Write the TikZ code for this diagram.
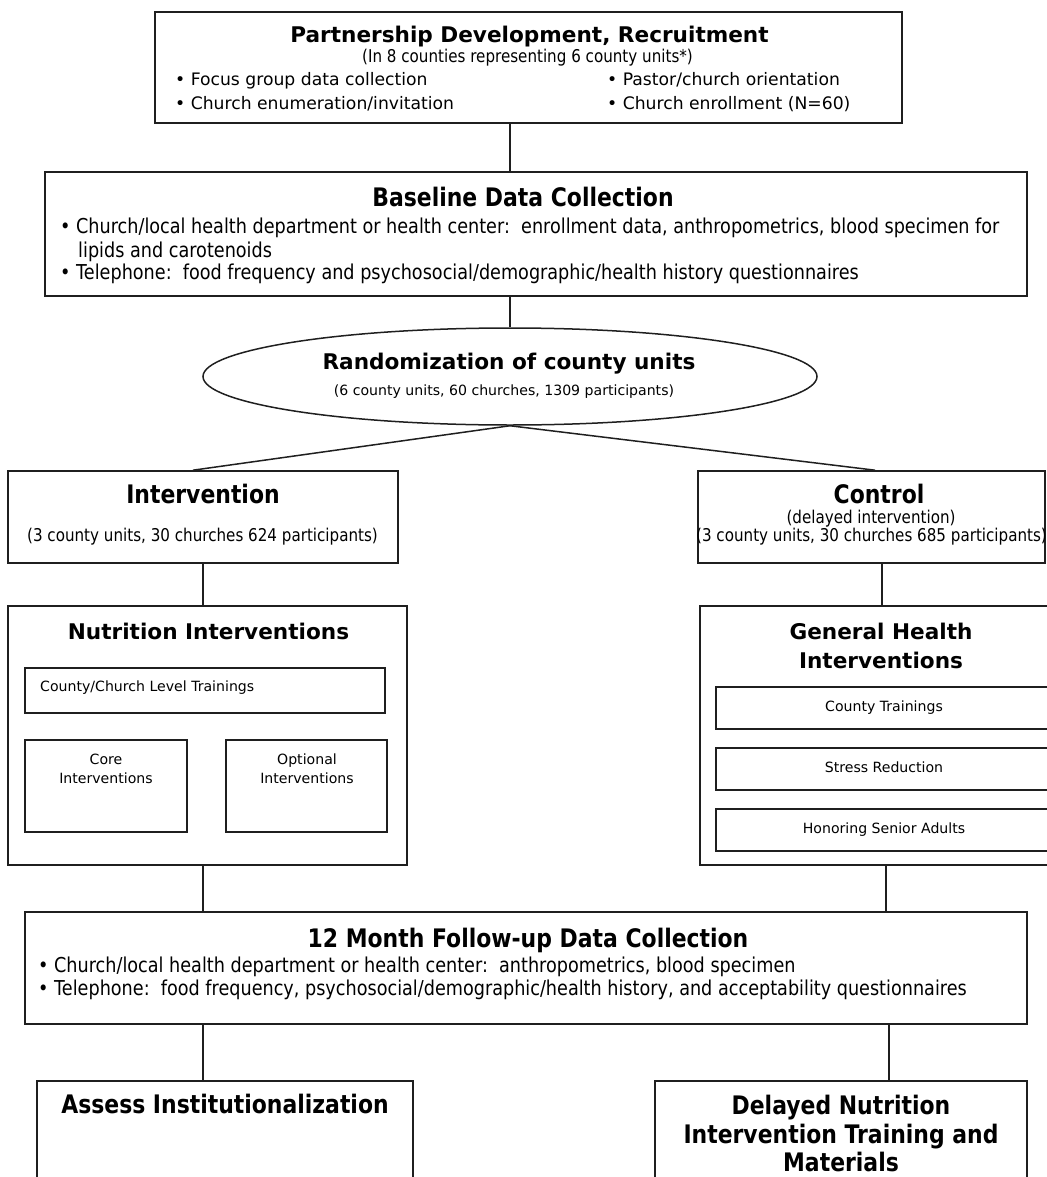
\documentclass[tikz,border=0pt]{standalone}
\usepackage{fontspec}
\setmainfont{DejaVu Sans}
\newfontfamily\tahfam[FakeStretch=0.86]{DejaVu Sans}
\usetikzlibrary{shapes.geometric}
\newcommand\fVT{\fontsize{21.6}{26}\selectfont\bfseries}
\newcommand\fVR{\fontsize{17.2}{21}\selectfont}
\newcommand\fVS{\fontsize{14.1}{17}\selectfont}
\newcommand\fTT{\tahfam\fontsize{25.5}{29}\selectfont\bfseries}
\newcommand\fTR{\tahfam\fontsize{20.5}{24}\selectfont}
\newcommand\fTS{\tahfam\fontsize{17.6}{21}\selectfont}
\begin{document}
\begin{tikzpicture}[x=1pt,y=-1pt,
  box/.style={draw=black!88,line width=1.6pt,inner sep=0pt,minimum width=#1},
  ibox/.style={draw=black!88,line width=1.4pt,inner sep=0pt,minimum width=#1},
  txt/.style={inner sep=0pt,anchor=base},
  txtw/.style={inner sep=0pt,anchor=base west},
  conn/.style={draw=black!88,line width=1.5pt}]
\useasboundingbox (0,0) rectangle (1046,1177);

% Top box
\node[box=747pt,minimum height=111pt] (top) at (528.5,67.5) {};
\node[txt,font=\fVT] (topT) at (529.5,43) {Partnership Development, Recruitment};
\node[txt,font=\fTS] (topS) at (527.5,63) {(In 8 counties representing 6 county units*)};
\node[txtw,font=\fVR] (topA) at (175,86) {• Focus group data collection};
\node[txtw,font=\fVR] (topB) at (175,110) {• Church enumeration/invitation};
\node[txtw,font=\fVR] (topC) at (607,86) {• Pastor/church orientation};
\node[txtw,font=\fVR] (topD) at (607,110) {• Church enrollment (N=60)};

% Baseline box
\node[box=982pt,minimum height=124pt] (base) at (536,234) {};
\node[txt,font=\fTT] (baseT) at (523,206) {Baseline Data Collection};
\node[txtw,font=\fTR] (baseA) at (60,233) {• Church/local health department or health center:\ \ enrollment data, anthropometrics, blood specimen for};
\node[txtw,font=\fTR] (baseB) at (78,257) {lipids and carotenoids};
\node[txtw,font=\fTR] (baseC) at (60,279) {• Telephone:\ \ food frequency and psychosocial/demographic/health history questionnaires};

% Randomization ellipse
\node[ellipse,draw=black!88,line width=1.5pt,inner sep=0pt,minimum width=614pt,minimum height=97pt] (rand) at (510,376.5) {};
\node[txt,font=\fVT] (randT) at (509,369) {Randomization of county units};
\node[txt,font=\fVS] (randS) at (504,395) {(6 county units, 60 churches, 1309 participants)};

% Intervention / Control
\node[box=390pt,minimum height=92pt] (interv) at (203,517) {};
\node[txt,font=\fTT] (intervT) at (203,503) {Intervention};
\node[txt,font=\fTS] (intervS) at (202.5,541) {(3 county units, 30 churches 624 participants)};
\node[box=347pt,minimum height=92pt] (ctrl) at (871.5,517) {};
\node[txt,font=\fTT] (ctrlT) at (879,503) {Control};
\node[txt,font=\fTS] (ctrlS) at (871,523) {(delayed intervention)};
\node[txt,font=\fTS] (ctrlP) at (871.5,541) {(3 county units, 30 churches 685 participants)};

% Nutrition Interventions
\node[box=399pt,minimum height=259pt] (nutr) at (207.5,735.5) {};
\node[txt,font=\fVT] (nutrT) at (208.5,639) {Nutrition Interventions};
\node[ibox=360pt,minimum height=45pt] (nlev) at (205,690.5) {};
\node[txtw,font=\fVS] (nlevT) at (40,691) {County/Church Level Trainings};
\node[ibox=162pt,minimum height=92pt] (core) at (106,786) {};
\node[txt,font=\fVS] (coreA) at (106,764) {Core};
\node[txt,font=\fVS] (coreB) at (106,783) {Interventions};
\node[ibox=161pt,minimum height=92pt] (opt) at (306.5,786) {};
\node[txt,font=\fVS] (optA) at (307,764) {Optional};
\node[txt,font=\fVS] (optB) at (307,783) {Interventions};

% General Health Interventions
\node[box=348pt,minimum height=259pt] (gen) at (874,735.5) {};
\node[txt,font=\fVT] (genA) at (881,639) {General Health};
\node[txt,font=\fVT] (genB) at (881,668) {Interventions};
\node[ibox=334pt,minimum height=42pt] (g1) at (883,708) {};
\node[txt,font=\fVS] (g1T) at (884,711) {County Trainings};
\node[ibox=334pt,minimum height=42pt] (g2) at (883,769) {};
\node[txt,font=\fVS] (g2T) at (884,772) {Stress Reduction};
\node[ibox=334pt,minimum height=42pt] (g3) at (883,830) {};
\node[txt,font=\fVS] (g3T) at (884,833) {Honoring Senior Adults};

% 12 Month follow-up
\node[box=1002pt,minimum height=112pt] (fu) at (526,968) {};
\node[txt,font=\fTT] (fuT) at (528,947) {12 Month Follow-up Data Collection};
\node[txtw,font=\fTR] (fuA) at (38,972) {• Church/local health department or health center:\ \ anthropometrics, blood specimen};
\node[txtw,font=\fTR] (fuB) at (38,995) {• Telephone:\ \ food frequency, psychosocial/demographic/health history, and acceptability questionnaires};

% Bottom boxes
\node[box=376pt,minimum height=110pt] (as) at (225,1136) {};
\node[txt,font=\fTT] (asT) at (225,1113) {Assess Institutionalization};
\node[box=372pt,minimum height=110pt] (dl) at (841,1136) {};
\node[txt,font=\fTT] (dlA) at (841,1114) {Delayed Nutrition};
\node[txt,font=\fTT] (dlB) at (841,1143) {Intervention Training and};
\node[txt,font=\fTT] (dlC) at (841,1171) {Materials};

% Connectors
\draw[conn] (top.south -| rand.north) -- (base.north -| rand.north);
\draw[conn] (base.south -| rand.north) -- (rand.north);
\draw[conn] (rand.south) -- ([xshift=-10pt]interv.north);
\draw[conn] (rand.south) -- ([xshift=3.5pt]ctrl.north);
\draw[conn] (interv.south) -- (interv.south |- nutr.north);
\draw[conn] ([xshift=10.5pt]ctrl.south) -- ([xshift=10.5pt]ctrl.south |- gen.north);
\draw[conn] ([xshift=-4.5pt]nutr.south) -- ([xshift=-4.5pt]nutr.south |- fu.north);
\draw[conn] ([xshift=12pt]gen.south) -- ([xshift=12pt]gen.south |- fu.north);
\draw[conn] ([xshift=-22pt]as.north |- fu.south) -- ([xshift=-22pt]as.north);
\draw[conn] ([xshift=48pt]dl.north |- fu.south) -- ([xshift=48pt]dl.north);
\end{tikzpicture}
\end{document}
